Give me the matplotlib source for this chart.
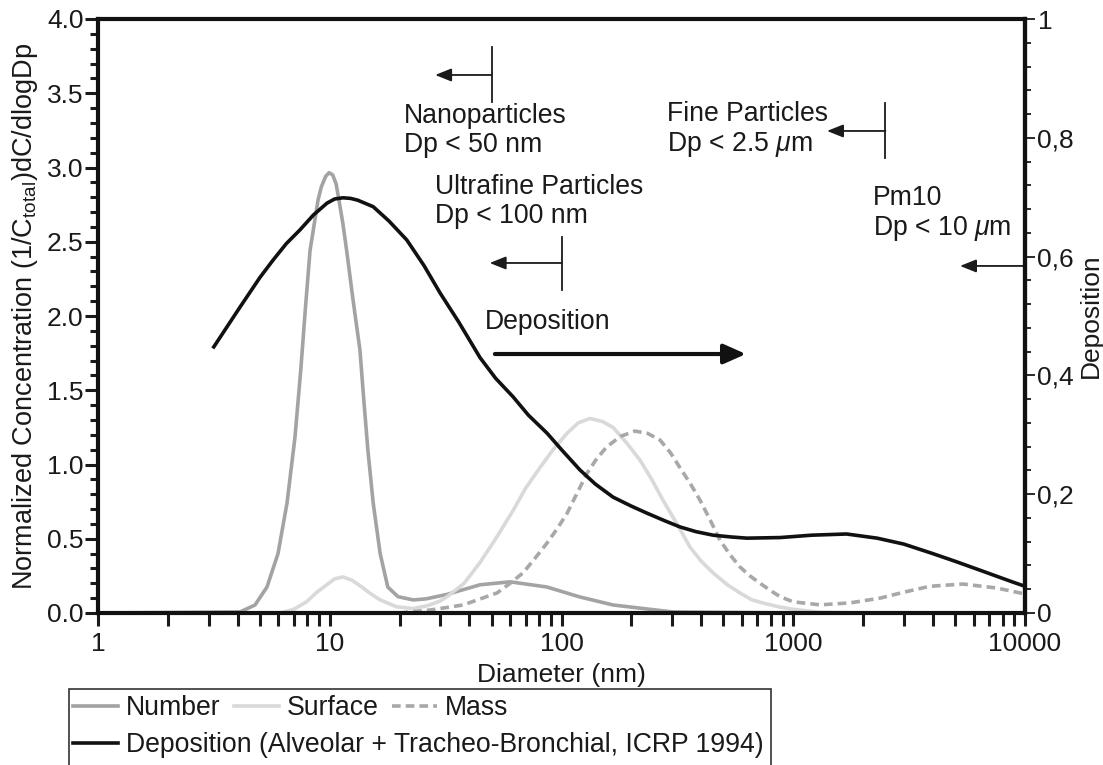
import numpy as np
import matplotlib
matplotlib.use("Agg")
import matplotlib.pyplot as plt
from matplotlib import ticker
from matplotlib.patches import Rectangle
from matplotlib.lines import Line2D

plt.rcParams['font.family'] = ['Liberation Sans', 'DejaVu Sans']
plt.rcParams['mathtext.fontset'] = 'custom'
plt.rcParams['mathtext.rm'] = 'Liberation Sans'
plt.rcParams['mathtext.it'] = 'Liberation Sans:italic'
plt.rcParams['mathtext.bf'] = 'Liberation Sans:bold'
plt.rcParams['text.color'] = '#1a1a1a'
plt.rcParams['axes.labelcolor'] = '#1a1a1a'
plt.rcParams['xtick.color'] = '#1a1a1a'
plt.rcParams['ytick.color'] = '#1a1a1a'

# size distributions (normalized)
number_x = [1, 4.1, 4.76, 5.36, 5.98, 6.54, 7.08, 7.5, 7.85, 8.22, 8.9, 9.2, 9.6, 9.93, 10.3,
            10.65, 10.96, 11.4, 11.83, 12.6, 13.5, 14.0, 14.6, 15.4, 16.5, 17.8, 19.7, 22.9, 26,
            32, 44.5, 60, 86.5, 120, 167, 234, 303, 1000, 10000]
number_y = [0, 0.007, 0.054, 0.175, 0.40, 0.74, 1.185, 1.64, 2.05, 2.44, 2.78, 2.87, 2.94, 2.965, 2.95,
            2.89, 2.78, 2.62, 2.44, 2.11, 1.77, 1.45, 1.10, 0.74, 0.40, 0.175, 0.11, 0.088, 0.095,
            0.125, 0.19, 0.21, 0.175, 0.108, 0.054, 0.027, 0.007, 0, 0]

surface_x = [1, 6.1, 7.0, 7.95, 8.8, 9.7, 10.5, 11.4, 12.5, 13.7, 15, 16.5, 19.4, 22.9, 26.5,
             29.9, 32.1, 38, 44.5, 52, 61.8, 70, 80.8, 92, 105.6, 118, 132.7, 150, 166.8, 190,
             218, 245, 274, 315, 358, 400, 451, 520, 589, 660, 740, 877, 1000, 1304, 2000, 10000]
surface_y = [0, 0, 0.025, 0.076, 0.14, 0.19, 0.23, 0.243, 0.22, 0.177, 0.13, 0.088, 0.042, 0.03, 0.05,
             0.08, 0.11, 0.2, 0.34, 0.5, 0.69, 0.84, 0.98, 1.1, 1.21, 1.28, 1.31, 1.29, 1.25, 1.15,
             1.03, 0.9, 0.76, 0.6, 0.445, 0.35, 0.27, 0.19, 0.135, 0.09, 0.067, 0.04, 0.025, 0.005, 0, 0]

mass_x = [20, 27.1, 37.6, 52.7, 60, 68.2, 77, 86.5, 96, 105.6, 117, 128.8, 142, 157, 180, 207.5,
          235, 266, 295, 324, 360, 396, 440, 483, 535, 589, 650, 719, 800, 877, 1000, 1304, 1757,
          2366, 3000, 3890, 5400, 7570, 10000]
mass_y = [0, 0.02, 0.054, 0.135, 0.2, 0.27, 0.37, 0.47, 0.57, 0.67, 0.81, 0.94, 1.04, 1.12, 1.19, 1.225,
          1.21, 1.165, 1.08, 0.98, 0.87, 0.76, 0.62, 0.49, 0.39, 0.31, 0.25, 0.20, 0.15, 0.11, 0.075,
          0.055, 0.068, 0.10, 0.14, 0.18, 0.195, 0.168, 0.128]

# deposition fraction (right axis)
dep_x = [3.16, 4.1, 5.0, 5.69, 6.5, 7.44, 8.5, 9.73, 10.5, 11.4, 12.3, 13.2, 15.4, 18, 21.5, 25.5,
         29.9, 36, 44.5, 52, 61.8, 72, 86.5, 100, 120, 140, 167, 200, 234, 280, 324, 380, 451, 540,
         631, 877, 1200, 1700, 2300, 3000, 4000, 5000, 6400, 8870, 10000]
dep_y = [0.448, 0.515, 0.565, 0.594, 0.622, 0.645, 0.67, 0.690, 0.697, 0.699, 0.698, 0.695, 0.684,
         0.66, 0.628, 0.585, 0.539, 0.49, 0.43, 0.395, 0.364, 0.333, 0.303, 0.275, 0.241, 0.217,
         0.195, 0.18, 0.168, 0.155, 0.145, 0.137, 0.131, 0.128, 0.126, 0.127, 0.131, 0.133, 0.126,
         0.116, 0.100, 0.087, 0.072, 0.052, 0.045]

c_num = '#a3a3a3'
c_surf = '#d9d9d9'
c_mass = '#a8a8a8'
c_dep = '#111111'

FS = 19
W, H = 1103, 765
fig = plt.figure(figsize=(W / 100, H / 100), dpi=100)
ax = fig.add_axes([98 / W, 1 - 613 / H, (1025 - 98) / W, (613 - 19) / H])
ax2 = ax.twinx()

ax.plot(number_x, number_y, color=c_num, lw=2.6, solid_joinstyle='round')
ax.plot(surface_x, surface_y, color=c_surf, lw=2.6, solid_joinstyle='round')
ax.plot(mass_x, mass_y, color=c_mass, lw=2.6, dashes=(2.4, 1.4))
ax2.plot(dep_x, dep_y, color=c_dep, lw=2.6, solid_joinstyle='round')

ax.set_xscale('log')
ax.set_xlim(1, 10000)
ax.set_ylim(0, 4)
ax2.set_ylim(0, 1)

ax.xaxis.set_major_locator(ticker.LogLocator(base=10, numticks=10))
ax.xaxis.set_minor_locator(ticker.LogLocator(base=10, subs=np.arange(2, 10), numticks=100))
ax.xaxis.set_major_formatter(ticker.FuncFormatter(lambda v, p: f"{v:g}"))
ax.xaxis.set_minor_formatter(ticker.NullFormatter())
ax.yaxis.set_major_locator(ticker.MultipleLocator(0.5))
ax.yaxis.set_minor_locator(ticker.MultipleLocator(0.1))
ax.yaxis.set_major_formatter(ticker.FormatStrFormatter('%.1f'))
ax2.yaxis.set_major_locator(ticker.MultipleLocator(0.2))
ax2.yaxis.set_minor_locator(ticker.MultipleLocator(0.04))
ax2.yaxis.set_major_formatter(ticker.FuncFormatter(lambda v, p: f"{v:g}".replace('.', ',')))

ax.tick_params(axis='x', which='both', direction='out', length=9.5, width=2.2, pad=4, labelsize=FS)
ax.tick_params(axis='y', which='major', direction='out', length=9.5, width=2.2, pad=1, labelsize=FS)
ax.tick_params(axis='y', which='minor', direction='out', length=5.5, width=2.2)
ax2.tick_params(axis='y', which='major', direction='out', length=7, width=1.3, pad=2, labelsize=FS)
ax2.tick_params(axis='y', which='minor', direction='out', length=4.5, width=1.3)

for s in ax.spines.values():
    s.set_linewidth(3)
    s.set_color('#111111')
for name, s in ax2.spines.items():
    s.set_visible(name == 'right')
    s.set_linewidth(3)
    s.set_color('#111111')

ax.set_xlabel('Diameter (nm)', fontsize=FS, labelpad=5)
ax.set_ylabel(r'Normalized Concentration (1/C$_{\mathregular{total}}$)dC/dlogDp', fontsize=19.5, labelpad=5)
ax2.set_ylabel('Deposition', fontsize=FS, labelpad=3)

# size class annotations
txt = dict(fontsize=19.2, ha='left', va='center', linespacing=1.14)
ax.text(20.9, 3.25, 'Nanoparticles\nDp < 50 nm', **txt)
ax.text(285, 3.25, 'Fine Particles\nDp < 2.5 $\\mu$m', **txt)
ax.text(28.5, 2.77, 'Ultrafine Particles\nDp < 100 nm', **txt)
ax.text(2208, 2.69, 'Pm10\nDp < 10 $\\mu$m', **txt)
ax.text(46.8, 1.96, 'Deposition', **txt)

small = dict(arrowstyle='-|>,head_length=0.7,head_width=0.28', lw=1.3, color='#1a1a1a',
             shrinkA=0, shrinkB=0, mutation_scale=14)
ax.annotate('', xy=(28.5, 3.623), xytext=(50, 3.623), arrowprops=small)
ax.plot([50, 50], [3.44, 3.81], color='#1a1a1a', lw=1.3)
ax.annotate('', xy=(1399, 3.246), xytext=(2500, 3.246), arrowprops=small)
ax.plot([2500, 2500], [3.064, 3.434], color='#1a1a1a', lw=1.3)
ax.annotate('', xy=(49, 2.357), xytext=(100, 2.357), arrowprops=small)
ax.plot([100, 100], [2.175, 2.532], color='#1a1a1a', lw=1.3)
ax.annotate('', xy=(5245, 2.337), xytext=(10000, 2.337), arrowprops=small)
ax.annotate('', xy=(625, 1.744), xytext=(51.6, 1.744),
            arrowprops=dict(arrowstyle='-|>,head_length=0.45,head_width=0.2', lw=3, color='#111111',
                            shrinkA=0, shrinkB=0, mutation_scale=30))

# legend
h_num = Line2D([], [], color=c_num, lw=2.6)
h_surf = Line2D([], [], color=c_surf, lw=2.6)
h_mass = Line2D([], [], color=c_mass, lw=2.6, dashes=(2.4, 1.4))
h_dep = Line2D([], [], color=c_dep, lw=2.6)
leg_kw = dict(loc='center left', frameon=False, fontsize=19.2, handlelength=1.7, handletextpad=0.28,
              columnspacing=0.5, borderpad=0, borderaxespad=0)
fig.legend([h_num, h_surf, h_mass], ['Number', 'Surface', 'Mass'], ncol=3,
           bbox_to_anchor=(73 / W, 1 - 708 / H), **leg_kw)
fig.legend([h_dep], ['Deposition (Alveolar + Tracheo-Bronchial, ICRP 1994)'],
           bbox_to_anchor=(73 / W, 1 - 745 / H), **leg_kw)
fig.add_artist(Rectangle((69 / W, -0.1), (771 - 69) / W, (765 - 689) / H + 0.1,
                         transform=fig.transFigure, fill=False, lw=1.2, ec='#333333'))

fig.savefig('out.png', dpi=100)
